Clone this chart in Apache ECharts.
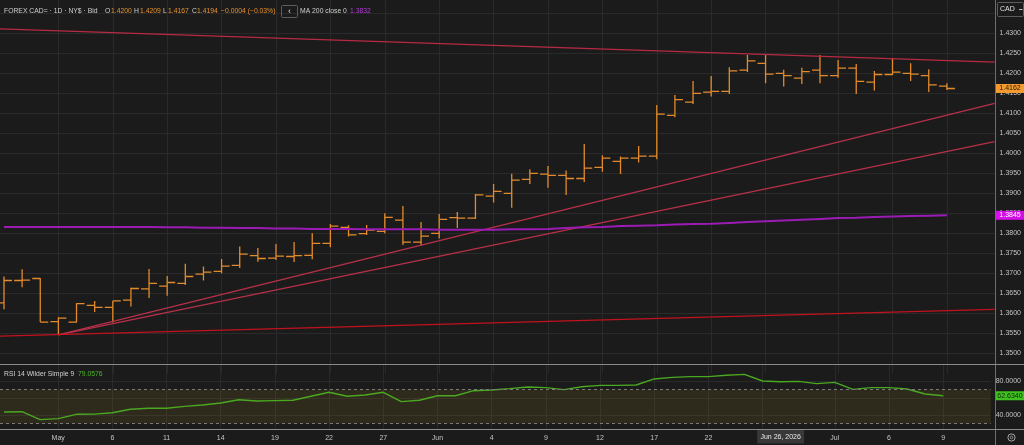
<!DOCTYPE html>
<html>
<head>
<meta charset="utf-8">
<title>FOREX CAD=</title>
<script src="https://cdn.jsdelivr.net/npm/echarts@6/dist/echarts.min.js"></script>
<style>
  html, body { margin: 0; padding: 0; background: #1b1b1b; }
  #main { width: 1024px; height: 445px; }
</style>
</head>
<body>
<div id="main"></div>
<script>
// daily bars, Apr 28 - Jul 9 2026
var dates = ['Apr 28','Apr 29','Apr 30','May 1','May 4','May 5','May 6','May 7','May 8',
  'May 11','May 12','May 13','May 14','May 15','May 18','May 19','May 20','May 21','May 22',
  'May 25','May 26','May 27','May 28','May 29','Jun 1','Jun 2','Jun 3','Jun 4','Jun 5',
  'Jun 8','Jun 9','Jun 10','Jun 11','Jun 12','Jun 15','Jun 16','Jun 17','Jun 18','Jun 19',
  'Jun 22','Jun 23','Jun 24','Jun 25','Jun 26','Jun 29','Jun 30','Jul 1','Jul 2','Jul 3',
  'Jul 6','Jul 7','Jul 8','Jul 9'];

var open = [1.3626,1.3682,1.3687,1.3579,1.3578,1.3620,1.3615,1.3633,1.3661,
  1.3668,1.3675,1.3698,1.3705,1.3720,1.3744,1.3738,1.3742,1.3745,1.3775,
  1.3815,1.3799,1.3805,1.3833,1.3778,1.3800,1.3839,1.3838,1.3893,1.3900,
  1.3935,1.3948,1.3945,1.3937,1.3965,1.3980,1.3988,1.3993,1.4095,1.4128,
  1.4153,1.4155,1.4208,1.4225,1.4200,1.4188,1.4208,1.4194,1.4213,1.4178,
  1.4197,1.4200,1.4194,1.4168];
var high = [1.3692,1.3710,1.3688,1.3590,1.3625,1.3631,1.3631,1.3664,1.3711,
  1.3693,1.3724,1.3717,1.3736,1.3767,1.3763,1.3773,1.3778,1.3800,1.3823,
  1.3820,1.3821,1.3850,1.3868,1.3828,1.3848,1.3853,1.3898,1.3923,1.3949,
  1.3960,1.3968,1.3957,1.4023,1.3995,1.3992,1.4018,1.4121,1.4146,1.4181,
  1.4193,1.4215,1.4246,1.4246,1.4209,1.4214,1.4246,1.4233,1.4223,1.4206,
  1.4238,1.4225,1.4210,1.4175];
var low = [1.3610,1.3665,1.3578,1.3546,1.3577,1.3603,1.3577,1.3617,1.3638,
  1.3644,1.3671,1.3682,1.3700,1.3713,1.3729,1.3733,1.3728,1.3735,1.3765,
  1.3792,1.3796,1.3800,1.3771,1.3768,1.3787,1.3813,1.3836,1.3877,1.3864,
  1.3923,1.3914,1.3896,1.3928,1.3954,1.3948,1.3977,1.3985,1.4090,1.4123,
  1.4142,1.4148,1.4203,1.4175,1.4167,1.4173,1.4175,1.4189,1.4148,1.4157,
  1.4196,1.4181,1.4153,1.4158];
var close = [1.3682,1.3683,1.3578,1.3588,1.3624,1.3615,1.3631,1.3662,1.3675,
  1.3677,1.3692,1.3703,1.3718,1.3748,1.3737,1.3743,1.3744,1.3775,1.3818,
  1.3796,1.3808,1.3840,1.3778,1.3793,1.3835,1.3838,1.3896,1.3905,1.3933,
  1.3950,1.3945,1.3937,1.3963,1.3988,1.3988,1.3993,1.4098,1.4134,1.4150,
  1.4155,1.4206,1.4231,1.4198,1.4194,1.4204,1.4194,1.4213,1.4180,1.4197,
  1.4203,1.4198,1.4171,1.4162];

var ma200 = [1.3816,1.3816,1.3816,1.3816,1.3816,1.3816,1.3816,1.3816,1.3816,
  1.3815,1.3815,1.3814,1.3814,1.3813,1.3813,1.3812,1.3812,1.3811,1.3811,
  1.3811,1.3810,1.3810,1.3810,1.3810,1.3809,1.3809,1.3809,1.3809,1.3810,
  1.3810,1.3811,1.3813,1.3815,1.3816,1.3818,1.3819,1.3820,1.3822,1.3823,
  1.3824,1.3826,1.3828,1.3830,1.3832,1.3834,1.3836,1.3838,1.3839,1.3841,
  1.3842,1.3843,1.3844,1.3845];

var rsi = [43.5,43.9,34.5,35.7,40.8,41.0,42.7,46.7,47.9,
  48.0,50.2,51.8,54.1,58.0,56.5,56.9,57.3,62.0,66.7,
  62.0,63.5,66.7,55.7,57.3,62.7,62.7,68.6,69.4,71.0,
  72.9,72.2,69.8,73.3,74.9,74.9,75.3,82.4,84.3,85.1,
  85.1,86.7,87.8,80.0,79.0576,79.5,76.9,78.4,70.2,72.2,
  72.2,70.6,64.7,62.634];

// drawn trend lines: [bar index, price]
var lineTop = [[-0.22, 1.4311], [54.63, 1.4228]];
var lineRiseA = [[3, 1.3546], [54.63, 1.4125]];
var lineRiseB = [[3, 1.3546], [54.63, 1.4029]];
var lineBottom = [[-0.22, 1.3543], [54.63, 1.3610]];

var tickIdx = [3, 6, 9, 12, 15, 18, 21, 24, 27, 30, 33, 36, 39, 42, 46, 49, 52];
var tickLabels = ['May','6','11','14','19','22','27','Jun','4','9','12','17','22','25','Jul','6','9'];

var hoverIdx = 43;
var FONT = 'Liberation Sans';
var barColor = '#e38b2c';
var gridColor = '#2a2a2a';
var textColor = '#c4c4c4';

var ohlc = [];
for (var i = 0; i < dates.length; i++) {
  ohlc.push([i, open[i], high[i], low[i], close[i]]);
}
function pairs(arr) {
  return arr.map(function (v, i) { return [i, v]; });
}
function xLabel(v) {
  var k = tickIdx.indexOf(Math.round(v));
  return k < 0 ? '' : tickLabels[k];
}

var myChart = echarts.init(document.getElementById('main'));

var option = {
  backgroundColor: '#1b1b1b',
  animation: false,
  grid: [
    { left: 0, right: 29, top: 0, height: 373.3 },
    { left: 0, right: 29, top: 364, height: 68 }
  ],
  xAxis: [
    {
      type: 'value', gridIndex: 0, min: -0.22, max: 54.63,
      axisLine: { show: false },
      axisTick: { show: false, customValues: tickIdx },
      axisLabel: { show: false, customValues: tickIdx },
      splitLine: { show: true, lineStyle: { color: gridColor, width: 1 } }
    },
    {
      type: 'value', gridIndex: 1, min: -0.22, max: 54.63,
      axisLine: { show: false },
      axisTick: { show: false, customValues: tickIdx },
      axisLabel: {
        customValues: tickIdx, color: textColor, fontSize: 7, fontFamily: FONT,
        margin: 3, formatter: xLabel
      },
      splitLine: { show: true, lineStyle: { color: gridColor, width: 1 } }
    }
  ],
  yAxis: [
    {
      type: 'value', gridIndex: 0, position: 'right',
      min: 1.345, max: 1.43833, interval: 0.005,
      axisLine: { show: false }, axisTick: { show: false },
      axisLabel: {
        color: textColor, fontSize: 7, fontFamily: FONT, margin: 5,
        showMinLabel: false, showMaxLabel: false,
        formatter: function (v) { return v.toFixed(4); }
      },
      splitLine: { show: true, showMinLine: false, showMaxLine: false,
        lineStyle: { color: gridColor, width: 1 } }
    },
    {
      type: 'value', gridIndex: 1, position: 'right',
      min: 20, max: 100, interval: 20,
      axisLine: { show: false }, axisTick: { show: false },
      axisLabel: {
        color: textColor, fontSize: 7, fontFamily: FONT, margin: 5,
        formatter: function (v) { return (v === 40 || v === 80) ? v.toFixed(4) : ''; }
      },
      splitLine: { show: true, showMinLine: false, showMaxLine: false,
        lineStyle: { color: gridColor, width: 1 } }
    }
  ],
  series: [
    {
      name: 'trendTop', type: 'line', xAxisIndex: 0, yAxisIndex: 0,
      data: lineTop, symbol: 'none', silent: true,
      lineStyle: { color: '#b82a44', width: 1.2 }
    },
    {
      name: 'trendRiseA', type: 'line', xAxisIndex: 0, yAxisIndex: 0,
      data: lineRiseA, symbol: 'none', silent: true,
      lineStyle: { color: '#b8304a', width: 1.2 }
    },
    {
      name: 'trendRiseB', type: 'line', xAxisIndex: 0, yAxisIndex: 0,
      data: lineRiseB, symbol: 'none', silent: true,
      lineStyle: { color: '#b8304a', width: 1.2 }
    },
    {
      name: 'trendBottom', type: 'line', xAxisIndex: 0, yAxisIndex: 0,
      data: lineBottom, symbol: 'none', silent: true,
      lineStyle: { color: '#c2121f', width: 1.2 }
    },
    {
      name: 'MA 200', type: 'line', xAxisIndex: 0, yAxisIndex: 0,
      data: pairs(ma200), symbol: 'none', silent: true,
      lineStyle: { color: '#9a1cb4', width: 2 }
    },
    {
      name: 'CAD=', type: 'custom', xAxisIndex: 0, yAxisIndex: 0,
      data: ohlc, clip: true,
      encode: { x: 0, y: [1, 2, 3, 4] },
      renderItem: function (params, api) {
        var x = api.value(0);
        var o = api.coord([x, api.value(1)]);
        var h = api.coord([x, api.value(2)]);
        var l = api.coord([x, api.value(3)]);
        var c = api.coord([x, api.value(4)]);
        var w = 8;
        var st = { stroke: barColor, lineWidth: 1.3 };
        return {
          type: 'group',
          children: [
            { type: 'line', shape: { x1: h[0], y1: h[1], x2: l[0], y2: l[1] }, style: st },
            { type: 'line', shape: { x1: o[0] - w, y1: o[1], x2: o[0], y2: o[1] }, style: st },
            { type: 'line', shape: { x1: c[0], y1: c[1], x2: c[0] + w, y2: c[1] }, style: st }
          ]
        };
      }
    },
    {
      name: 'RSI', type: 'line', xAxisIndex: 1, yAxisIndex: 1,
      data: pairs(rsi), symbol: 'none', silent: true,
      lineStyle: { color: '#4aa821', width: 1.4 },
      markArea: {
        silent: true,
        itemStyle: { color: 'rgba(125,105,35,0.2)' },
        data: [[{ yAxis: 30 }, { yAxis: 70 }]]
      },
      markLine: {
        silent: true, symbol: 'none',
        label: { show: false },
        lineStyle: { color: '#7a7a7a', type: [3, 3], width: 1 },
        data: [{ yAxis: 70 }, { yAxis: 30 }]
      }
    }
  ]
};
myChart.setOption(option);

// overlay: header texts, separators, price boxes
var last = dates.length - 1;
var hc = close[hoverIdx] - close[hoverIdx - 1];
var hp = hc / close[hoverIdx - 1] * 100;
function sgn(v, d) { return (v < 0 ? '\u2212' : '+') + Math.abs(v).toFixed(d); }
var orange = '#e8922e';
var hy = 11.5;
var HF = '6.8px ' + FONT;
function txt(x, y, s, color, extra) {
  var t = { type: 'text', x: x, y: y, z: 100,
    style: { text: s, fill: color, font: HF, verticalAlign: 'middle' } };
  if (extra) { for (var k in extra) t.style[k] = extra[k]; }
  return t;
}
function priceBox(y, s, bg, fg) {
  return [
    { type: 'rect', z: 100, shape: { x: 996, y: y - 4.5, width: 28, height: 9 }, style: { fill: bg } },
    { type: 'text', z: 101, x: 1010, y: y, style: { text: s, fill: fg, font: '7px ' + FONT,
      align: 'center', verticalAlign: 'middle' } }
  ];
}

var yLast = myChart.convertToPixel({ yAxisIndex: 0 }, close[last]);
var yMa = myChart.convertToPixel({ yAxisIndex: 0 }, ma200[last]);
var yRsi = myChart.convertToPixel({ yAxisIndex: 1 }, rsi[last]);
var xHover = myChart.convertToPixel({ xAxisIndex: 1 }, hoverIdx);

var els = [
  { type: 'line', z: 90, shape: { x1: 995.5, y1: 0, x2: 995.5, y2: 445 }, style: { stroke: '#6e6e6e', lineWidth: 1 } },
  { type: 'rect', z: 89, shape: { x: 0, y: 430, width: 995, height: 2 }, style: { fill: '#1b1b1b' } },
  { type: 'line', z: 90, shape: { x1: 0, y1: 364.5, x2: 1024, y2: 364.5 }, style: { stroke: '#8a8a8a', lineWidth: 1 } },
  { type: 'line', z: 90, shape: { x1: 0, y1: 429.5, x2: 1024, y2: 429.5 }, style: { stroke: '#8a8a8a', lineWidth: 1 } },

  txt(4, hy, 'FOREX CAD= \u00b7 1D \u00b7 NY$ \u00b7 Bid', '#cfcfcf'),
  txt(105, hy, 'O', '#cfcfcf'), txt(111, hy, open[hoverIdx].toFixed(4), orange),
  txt(134, hy, 'H', '#cfcfcf'), txt(140, hy, high[hoverIdx].toFixed(4), orange),
  txt(163, hy, 'L', '#cfcfcf'), txt(168, hy, low[hoverIdx].toFixed(4), orange),
  txt(192, hy, 'C', '#cfcfcf'), txt(197, hy, close[hoverIdx].toFixed(4), orange),
  txt(221, hy, sgn(hc, 4) + ' (' + sgn(hp, 2) + '%)', orange),
  { type: 'rect', z: 100, shape: { x: 281.5, y: 5.5, width: 16, height: 12, r: 1 },
    style: { fill: 'none', stroke: '#5c5c5c', lineWidth: 1 } },
  txt(289.5, hy, '\u2039', '#dddddd', { align: 'center', font: '9px ' + FONT }),
  txt(300, hy, 'MA 200 close 0', '#cfcfcf'),
  txt(350, hy, ma200[hoverIdx].toFixed(4), '#b33ad6'),

  txt(4, 374, 'RSI 14 Wilder Simple 9', '#cfcfcf'),
  txt(78, 374, rsi[hoverIdx].toFixed(4), '#4cb826'),

  { type: 'rect', z: 100, shape: { x: 997.5, y: 2.5, width: 26, height: 14, r: 1 },
    style: { fill: '#1b1b1b', stroke: '#5c5c5c', lineWidth: 1 } },
  txt(1000, 9.5, 'CAD', '#e2e2e2', { font: '7px ' + FONT }),
  { type: 'line', z: 101, shape: { x1: 1019, y1: 9.5, x2: 1022.5, y2: 9.5 }, style: { stroke: '#bbbbbb', lineWidth: 1 } },

  { type: 'rect', z: 100, shape: { x: xHover - 23.5, y: 430, width: 47, height: 13.5 }, style: { fill: '#383838' } },
  { type: 'text', z: 101, x: xHover, y: 437, style: { text: dates[hoverIdx] + ', 2026', fill: '#e6e6e6',
    font: '7px ' + FONT, align: 'center', verticalAlign: 'middle' } },

  { type: 'circle', z: 100, shape: { cx: 1011.5, cy: 437.5, r: 3.6 }, style: { fill: 'none', stroke: '#a8a8a8', lineWidth: 1 } },
  { type: 'circle', z: 100, shape: { cx: 1011.5, cy: 437.5, r: 1.3 }, style: { fill: 'none', stroke: '#a8a8a8', lineWidth: 0.8 } }
];
els = els.concat(priceBox(yLast, close[last].toFixed(4), '#f29a2f', '#2a1a08'));
els = els.concat(priceBox(yMa, ma200[last].toFixed(4), '#d30fe6', '#ffffff'));
els = els.concat(priceBox(yRsi, rsi[last].toFixed(4), '#3fc21d', '#10240a'));

myChart.setOption({ graphic: { elements: els } });
</script>
</body>
</html>
